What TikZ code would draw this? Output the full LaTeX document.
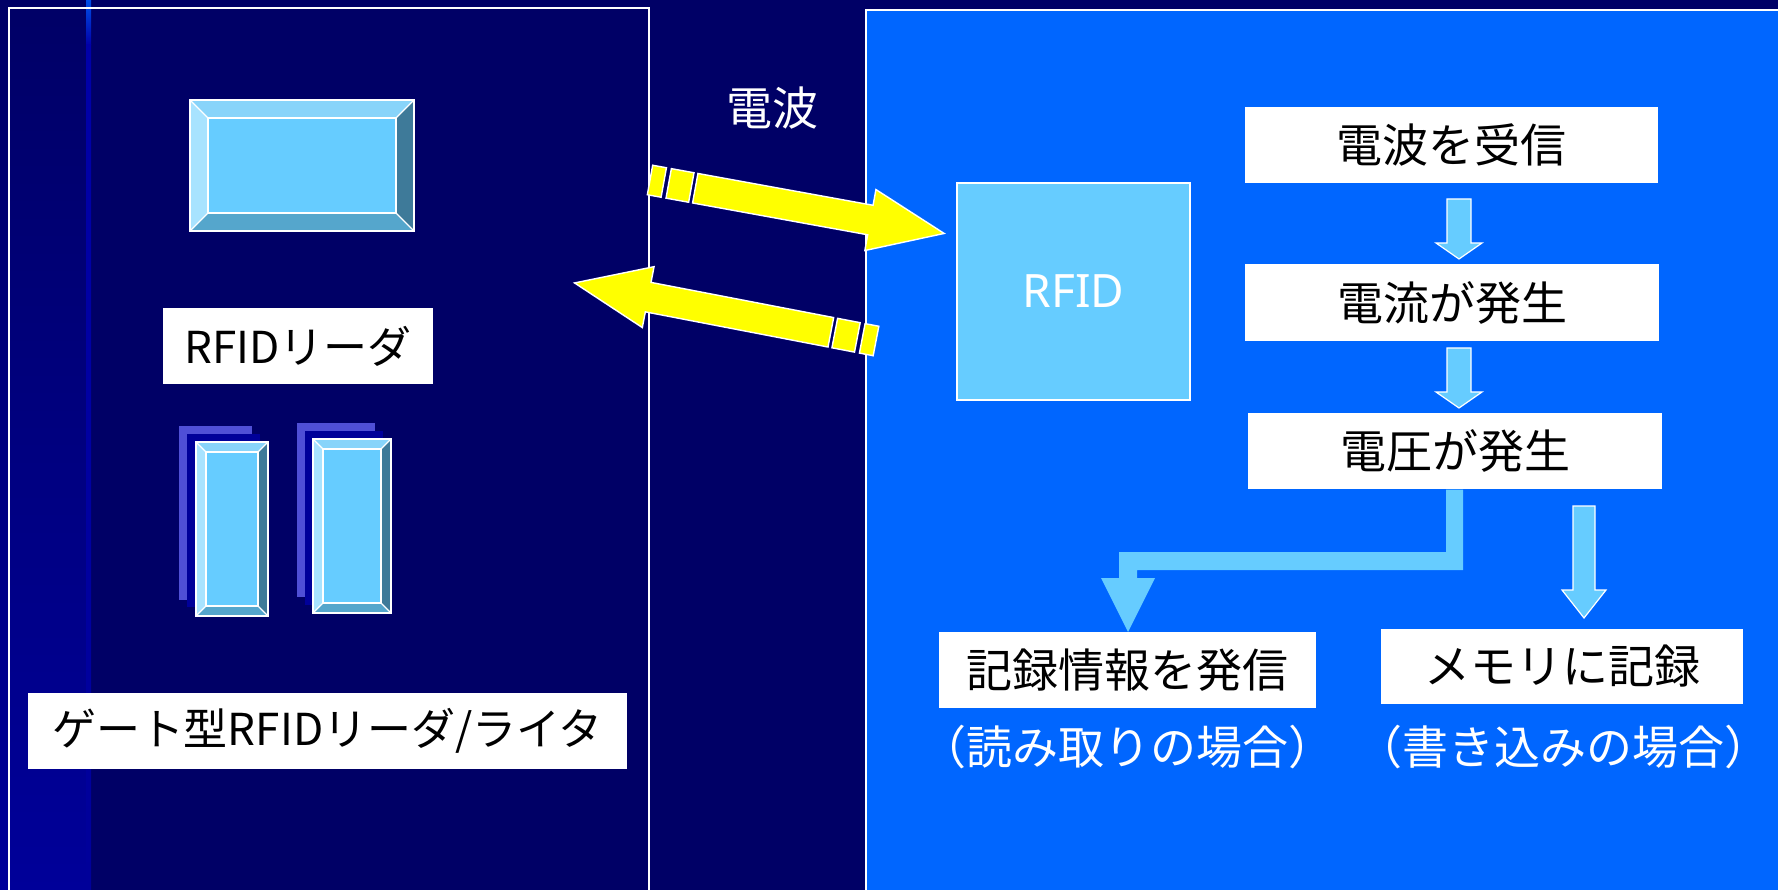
\documentclass[tikz,border=0pt]{standalone}
\usepackage{fontspec}
\newfontfamily\jpf{Noto Sans CJK JP}
\newfontfamily\latf{Noto Sans}
\usetikzlibrary{calc}
\definecolor{navy}{HTML}{000066}
\definecolor{stripbot}{HTML}{000099}
\definecolor{rfblue}{HTML}{0066FF}
\definecolor{lblue}{HTML}{66CCFF}
\definecolor{bvtop}{HTML}{88D4FA}
\definecolor{bvleft}{HTML}{A8E3FF}
\definecolor{bvright}{HTML}{3E7A99}
\definecolor{bvbot}{HTML}{55A6CC}
\definecolor{gback}{HTML}{4F4FD6}
\definecolor{gmid}{HTML}{000099}
\definecolor{yel}{HTML}{FFFF00}
\newcommand\fsz{\fontsize{46}{55}\selectfont}
\newcommand\fsl{\fontsize{44}{53}\selectfont}
% bevelled box: x1 y1 x2 y2 d
\newcommand\bevelbox[5]{%
  \fill[lblue] (#1,#2) rectangle (#3,#4);
  \fill[bvtop] (#1,#2) -- (#3,#2) -- ({#3-#5},{#2+#5}) -- ({#1+#5},{#2+#5}) -- cycle;
  \fill[bvleft] (#1,#2) -- ({#1+#5},{#2+#5}) -- ({#1+#5},{#4-#5}) -- (#1,#4) -- cycle;
  \fill[bvright] (#3,#2) -- ({#3-#5},{#2+#5}) -- ({#3-#5},{#4-#5}) -- (#3,#4) -- cycle;
  \fill[bvbot] (#1,#4) -- ({#1+#5},{#4-#5}) -- ({#3-#5},{#4-#5}) -- (#3,#4) -- cycle;
  \draw[bevline] (#1,#2) rectangle (#3,#4);
  \draw[bevline] ({#1+#5},{#2+#5}) rectangle ({#3-#5},{#4-#5});
  \draw[bevline] (#1,#2) -- ({#1+#5},{#2+#5}) (#3,#2) -- ({#3-#5},{#2+#5})
                 (#1,#4) -- ({#1+#5},{#4-#5}) (#3,#4) -- ({#3-#5},{#4-#5});
}
% yellow dashed-tail block arrow in local coordinates, length #1
\newcommand\yarrow[1]{%
  \draw[yarr] (0,-15) -- (14,-15) -- (14,15) -- (0,15) -- cycle;
  \draw[yarr] (19,-15) -- (42,-15) -- (42,15) -- (19,15) -- cycle;
  \draw[yarr] (46,-15) -- ({#1-75},-15) -- ({#1-75},-31) -- (#1,0) -- ({#1-75},31) -- ({#1-75},15) -- (46,15) -- cycle;
}
% down block arrow: cx, shaft half width, top, head base, head half width, tip
\newcommand\dnarrow[6]{%
  \draw[farr] ({#1-#2},#3) -- ({#1+#2},#3) -- ({#1+#2},#4) -- ({#1+#5},#4) -- (#1,#6)
     -- ({#1-#5},#4) -- ({#1-#2},#4) -- cycle;
}
\begin{document}
\begin{tikzpicture}[x=1pt,y=-1pt,
  bevline/.style={white, line width=1.3pt, line join=miter},
  yarr/.style={fill=yel, draw=white, line width=1.4pt, line join=miter},
  farr/.style={fill=lblue, draw=white, line width=1.2pt, line join=miter},
  lbl/.style={fill=white, text=black, inner sep=0pt, font=\jpf\fsl},
  flowbox/.style={fill=white, text=black, inner sep=0pt, font=\jpf\fsz},
  caption/.style={text=white, inner sep=0pt, font=\jpf\fsz}]
\useasboundingbox (0,0) rectangle (1778,890);
\clip (0,0) rectangle (1778,890);
% background
\fill[navy] (0,0) rectangle (1778,890);
\shade[top color=navy, bottom color=stripbot] (0,0) rectangle (86,890);
\shade[top color={rgb,255:red,0;green,80;blue,232}, bottom color={rgb,255:red,0;green,0;blue,168}] (86,0) rectangle (91,45);
\shade[top color={rgb,255:red,0;green,0;blue,168}, bottom color=stripbot] (86,45) rectangle (91,890);
% left panel
\draw[white, line width=1.5pt] (9,8) rectangle (649,905);
% right panel
\draw[white, line width=1.5pt, fill=rfblue] (866,10) rectangle (1795,905);

% reader icon
\bevelbox{190}{100}{414}{231}{18}
\node[lbl, minimum width=270pt, minimum height=76pt] (lblReader) at (298,346) {RFIDリーダ};

% gate icons
\fill[gback] (179,426) rectangle (252,600);
\fill[gmid] (187,434) rectangle (260,607);
\bevelbox{196}{442}{268}{616}{10}
\fill[gback] (297,423) rectangle (375,597);
\fill[gmid] (305,431) rectangle (383,605);
\bevelbox{313}{439}{391}{613}{10}
\node[lbl, minimum height=76pt, inner xsep=24pt, text width=551pt, align=left] (lblGate) at (327.5,731) {ゲート型RFIDリーダ/ライタ};

% radio waves
\node[caption] (wave) at (772,108) {電波};
\begin{scope}[shift={(650,180)}, rotate=-10.3]
  \yarrow{299}
\end{scope}
\begin{scope}[shift={(876,341)}, rotate=169.1]
  \yarrow{307}
\end{scope}

% RFID tag
\node[fill=lblue, draw=white, line width=1.4pt, minimum width=233pt, minimum height=217pt,
      text=white, font=\latf\fsz, inner sep=0pt] (rfid) at (1073.5,291.5) {RFID};

% flow
\node[flowbox, minimum width=413pt, minimum height=76pt] (b1) at (1451.5,145) {電波を受信};
\node[flowbox, minimum width=414pt, minimum height=77pt] (b2) at (1452,302.5) {電流が発生};
\node[flowbox, minimum width=414pt, minimum height=76pt] (b3) at (1455,451) {電圧が発生};
\node[flowbox, minimum width=377pt, minimum height=76pt] (b4) at (1127.5,670) {記録情報を発信};
\node[flowbox, minimum width=362pt, minimum height=75pt] (b5) at (1562,666.5) {メモリに記録};
\node[caption] (c4) at (1127,747) {（読み取りの場合）};
\node[caption] (c5) at (1563,747) {（書き込みの場合）};

\dnarrow{1459}{12}{199}{243}{23}{259}
\dnarrow{1459}{12}{348}{392}{23}{408}
\dnarrow{1584}{11}{506}{590}{22}{618}
\fill[lblue] (1446,489.5) -- (1463,489.5) -- (1463,570) -- (1137,570) -- (1137,578) -- (1155,578)
  -- (1128,632) -- (1101,578) -- (1119,578) -- (1119,552) -- (1446,552) -- cycle;
\end{tikzpicture}
\end{document}
